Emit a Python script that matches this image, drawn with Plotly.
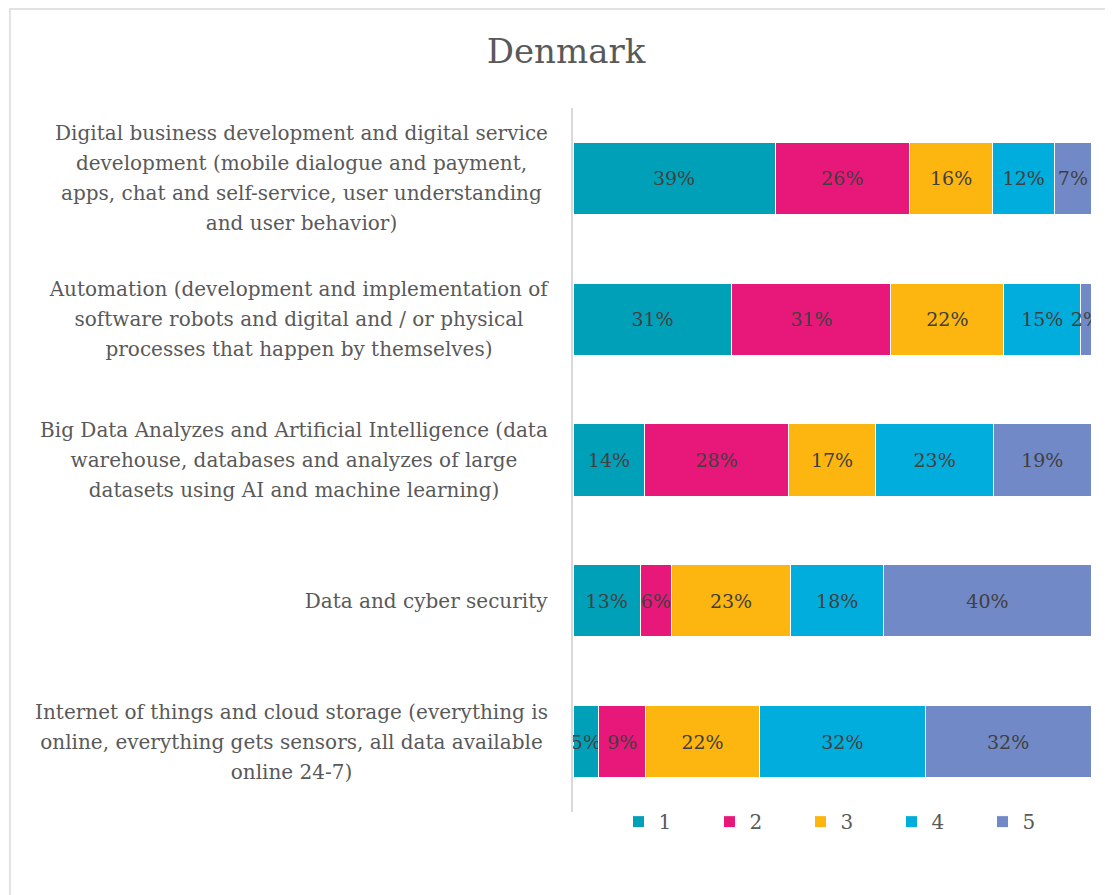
import plotly.graph_objects as go

categories = [
    "Digital business development and digital service<br>development (mobile dialogue and payment,<br>apps, chat and self-service, user understanding<br>and user behavior)",
    "Automation (development and implementation of<br>software robots and digital and / or physical<br>processes that happen by themselves)",
    "Big Data Analyzes and Artificial Intelligence (data<br>warehouse, databases and analyzes of large<br>datasets using AI and machine learning)",
    "Data and cyber security",
    "Internet of things and cloud storage (everything is<br>online, everything gets sensors, all data available<br>online 24-7)",
]
series_names = ["1", "2", "3", "4", "5"]
values_1 = [39, 31, 14, 13, 5]
values_2 = [26, 31, 28, 6, 9]
values_3 = [16, 22, 17, 23, 22]
values_4 = [12, 15, 23, 18, 32]
values_5 = [7, 2, 19, 40, 32]
all_values = [values_1, values_2, values_3, values_4, values_5]
colors = ["#00A0B8", "#E8177A", "#FDB50F", "#00ADDC", "#7189C7"]

# style: approximate pixel width of each label block (widest line), used to centre lines
label_box_w = [497, 502, 512, 247, 517]

FONT = "DejaVu Serif"
LINE_H = 30

fig = go.Figure()
for name, vals, col in zip(series_names, all_values, colors):
    fig.add_trace(go.Bar(
        name=name,
        y=categories,
        x=vals,
        orientation="h",
        marker=dict(color=col, line=dict(color="white", width=1)),
        text=[f"{v}%" for v in vals],
        textposition="inside",
        insidetextanchor="middle",
        textangle=0,
        constraintext="none",
        textfont=dict(family=FONT, size=19, color="#404040"),
        hoverinfo="skip",
    ))

# category labels: centred multi-line text, right edge next to the axis
for cat, bw in zip(categories, label_box_w):
    lines = cat.split("<br>")
    n = len(lines)
    for i, ln in enumerate(lines):
        fig.add_annotation(
            xref="paper", yref="y", x=-0.04, y=cat,
            text=ln, showarrow=False, xanchor="right", yanchor="middle",
            yshift=((n - 1) / 2 - i) * LINE_H,
            font=dict(family=FONT, size=20, color="#595959"),
            width=bw, align="center",
        )

# chart border
fig.add_shape(type="rect", xref="paper", yref="paper",
              x0=-1.087, x1=1.06, y0=-0.14, y1=1.1406,
              line=dict(color="#D9D9D9", width=1.5), layer="below")

fig.update_layout(
    width=1105, height=887,
    barmode="stack", barnorm="percent", bargap=0.487,
    paper_bgcolor="white", plot_bgcolor="white",
    margin=dict(l=565, r=22, t=100, b=83),
    title=dict(text="Denmark", x=0.505, xanchor="center", y=0.951, yanchor="middle",
               font=dict(family=FONT, size=34, color="#595959")),
    xaxis=dict(visible=False, range=[0, 100], fixedrange=True),
    yaxis=dict(autorange="reversed", showticklabels=False, showline=True,
               linecolor="#D9D9D9", linewidth=1.5, ticks="", showgrid=False,
               zeroline=False),
    legend=dict(orientation="h", x=0.527, xanchor="center", y=0.014, yanchor="top",
                entrywidth=46, entrywidthmode="pixels", traceorder="normal",
                font=dict(family=FONT, size=20, color="#595959")),
    showlegend=True,
    font=dict(family=FONT),
)

fig.write_html("out.html")
